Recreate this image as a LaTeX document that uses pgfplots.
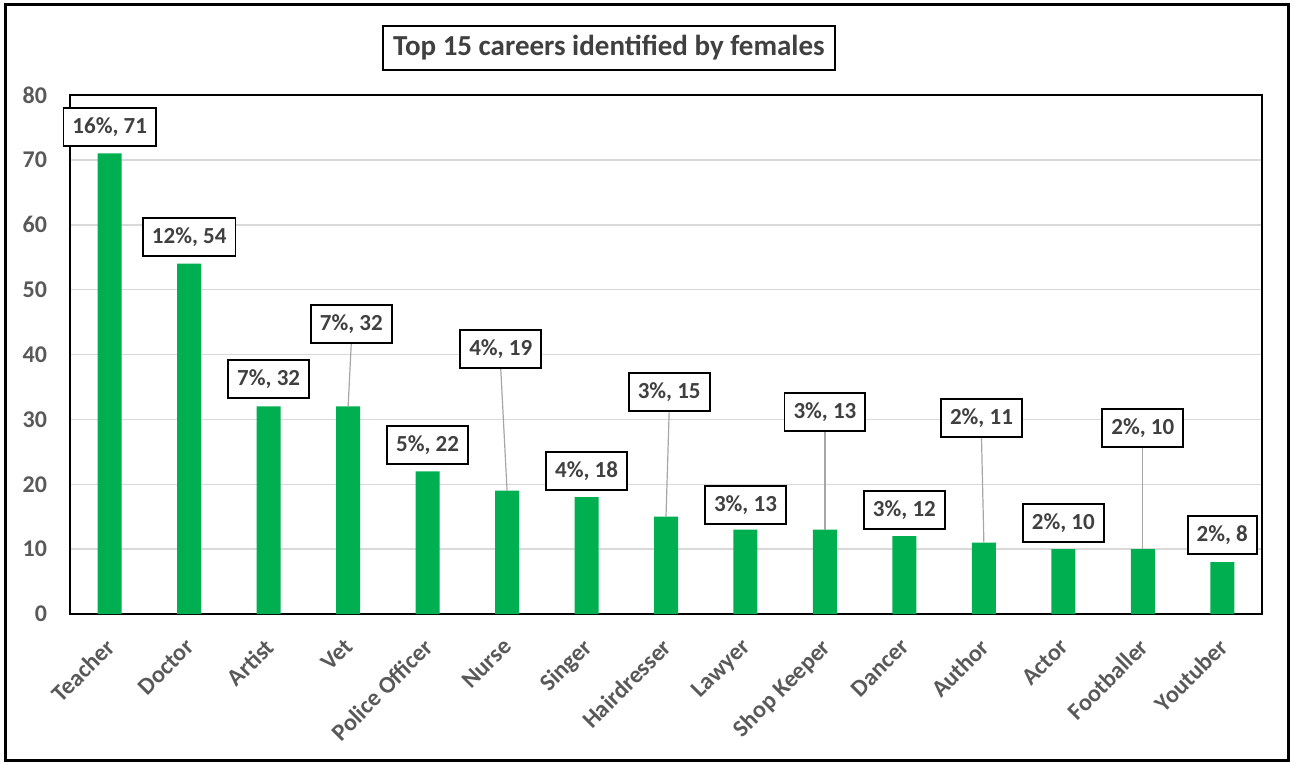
\documentclass[border=0pt]{standalone}
\usepackage{pgfplots}
\pgfplotsset{compat=1.18}
\usepackage{fontspec}
\setmainfont{Carlito}
\definecolor{bargreen}{HTML}{00B050}
\definecolor{labtext}{HTML}{404040}
\definecolor{ticktext}{HTML}{595959}
\definecolor{gridc}{HTML}{D9D9D9}
\definecolor{leader}{HTML}{A6A6A6}
\begin{document}
\begin{tikzpicture}
\useasboundingbox (0pt,0pt) rectangle (646.5pt,-381.5pt);
\draw[line width=1.5pt] (2.5pt,-2.5pt) rectangle (644pt,-380pt);
\node[draw, line width=0.9pt, inner xsep=5pt, minimum height=22pt, text=labtext,
  font=\fontsize{14.5}{17}\selectfont\bfseries] at (304.5pt,-24pt) {Top 15 careers identified by females};
\begin{axis}[
  at={(35pt,-307pt)}, anchor=south west,
  scale only axis, width=596pt, height=259.5pt,
  xmin=-0.5, xmax=14.5, ymin=0, ymax=80,
  ytick={0,10,...,80},
  xtick={0,...,14},
  xticklabels={Teacher,Doctor,Artist,Vet,Police Officer,Nurse,Singer,Hairdresser,Lawyer,Shop Keeper,Dancer,Author,Actor,Footballer,Youtuber},
  ymajorgrids, grid style={color=gridc, line width=0.75pt},
  axis line style={line width=1pt},
  major tick length=0pt,
  /pgf/number format/assume math mode=true,
  yticklabel style={font=\fontsize{12}{14}\selectfont\bfseries, text=ticktext, xshift=-8pt},
  xticklabel style={font=\fontsize{12}{14}\selectfont\bfseries, text=ticktext, rotate=45, anchor=north east, inner sep=0pt, xshift=-9.8pt, yshift=-6.2pt},
  clip=false,
]
\addplot[ybar, bar width=12pt, fill=bargreen, draw=none] coordinates {
(0,71) (1,54) (2,32) (3,32) (4,22) (5,19) (6,18) (7,15) (8,13) (9,13) (10,12) (11,11) (12,10) (13,10) (14,8)};
% leader lines
\addplot[leader, line width=0.6pt] coordinates {(3.04,41.8) (3,32)};
\addplot[leader, line width=0.6pt] coordinates {(4.92,37.9) (5,19)};
\addplot[leader, line width=0.6pt] coordinates {(7.04,31.3) (7,15)};
\addplot[leader, line width=0.6pt] coordinates {(9.0,28.2) (9,13)};
\addplot[leader, line width=0.6pt] coordinates {(10.97,27.3) (11,11)};
\addplot[leader, line width=0.6pt] coordinates {(13,25.8) (13,10)};
% data labels
\addplot[draw=none, mark=none, nodes near coords, point meta=explicit symbolic,
  nodes near coords style={anchor=center, draw=black, fill=white, line width=0.9pt, text=labtext,
    font=\fontsize{11.5}{13}\selectfont\bfseries, inner xsep=4.5pt, minimum height=19pt}]
coordinates {
(0,75.1) [16\%, 71]
(1,58.1) [12\%, 54]
(2,36.2) [7\%, 32]
(3.04,44.7) [7\%, 32]
(4,26.0) [5\%, 22]
(4.92,40.8) [4\%, 19]
(6,22.0) [4\%, 18]
(7.04,34.2) [3\%, 15]
(8,16.8) [3\%, 13]
(9.0,31.1) [3\%, 13]
(10,16.0) [3\%, 12]
(10.97,30.2) [2\%, 11]
(12,14.0) [2\%, 10]
(13,28.7) [2\%, 10]
(14,12.2) [2\%, 8]
};
\end{axis}
\end{tikzpicture}
\end{document}
